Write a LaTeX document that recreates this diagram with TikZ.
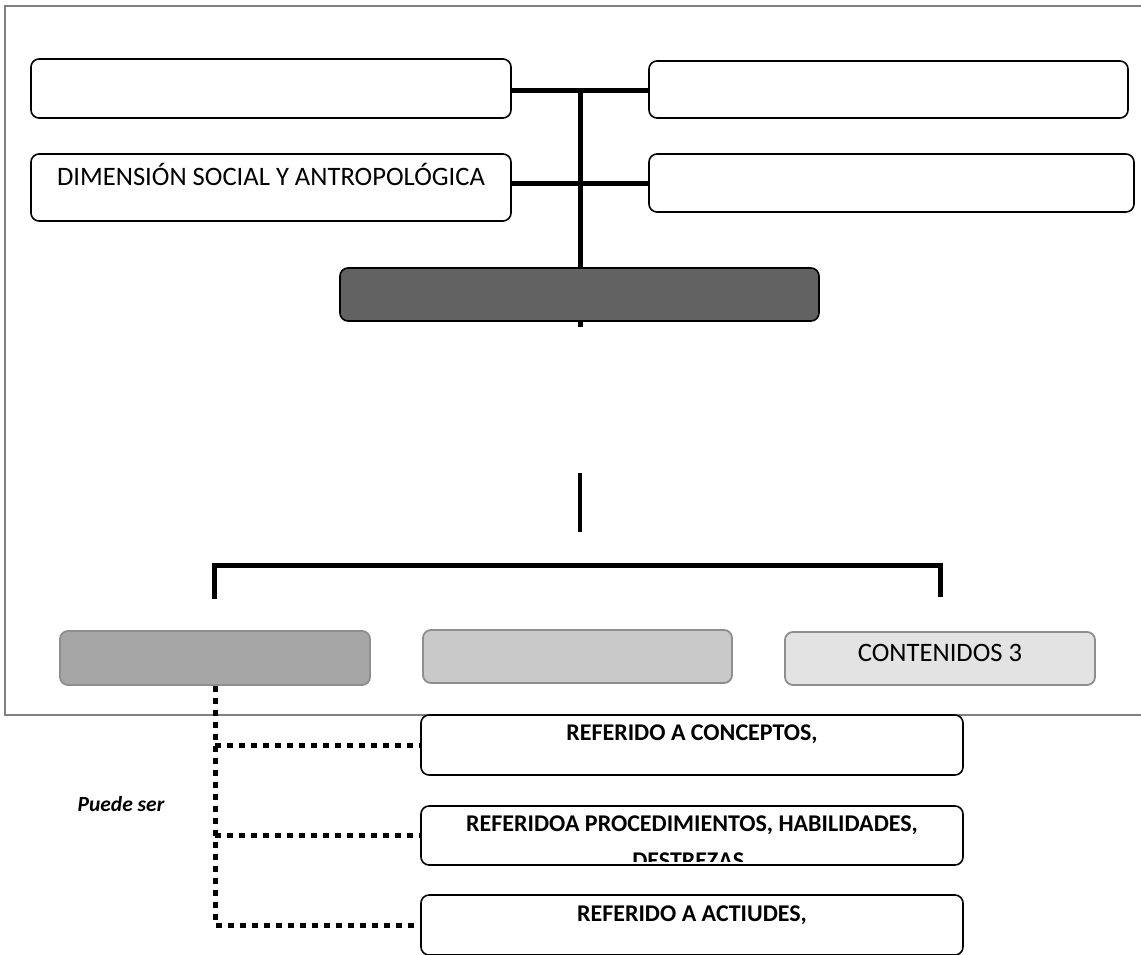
\documentclass[tikz,border=0pt]{standalone}
\usepackage{fontspec}
\setmainfont{Carlito}
\definecolor{framegray}{HTML}{808080}
\definecolor{softedge}{HTML}{8E8E8E}
\definecolor{darkfill}{HTML}{626262}
\definecolor{midfill}{HTML}{A6A6A6}
\definecolor{lightfill}{HTML}{C9C9C9}
\definecolor{palefill}{HTML}{E3E3E3}
\begin{document}
\begin{tikzpicture}[x=1pt,y=-1pt,
  box/.style={draw=black, line width=1.6pt, rounded corners=8pt, fill=white,
    inner sep=0pt},
  softbox/.style={draw=softedge, line width=1.8pt, rounded corners=8pt,
    inner sep=0pt},
  sz/.style n args={2}{minimum width=#1, minimum height=#2},
  txt/.style={inner sep=0pt, font=\fontsize{26.6}{30}\selectfont},
  btxt/.style={inner sep=0pt, font=\fontsize{24}{28}\selectfont\bfseries},
  heavy/.style={line width=5pt},
  midline/.style={line width=4pt},
  dotline/.style={line width=5pt, dash pattern=on 6pt off 6pt}
]
\useasboundingbox (0,0) rectangle (1141,954);

% page frame
\draw[framegray, line width=2pt] (1141,6) -- (5,6) -- (5,715) -- (1141,715);

% upper group of boxes
\node[box, sz={480pt}{59pt}] (tl) at (271,88.5) {};
\node[box, sz={480pt}{67pt}] (ml) at (271,187.5) {};
\node[box, sz={479pt}{57pt}] (tr) at (888.5,89.5) {};
\node[box, sz={485pt}{58pt}] (mr) at (891.5,183) {};
\node[txt] (mltext) at ([yshift=-21pt]ml.north) {DIMENSIÓN SOCIAL Y ANTROPOLÓGICA};

% central connectors
\coordinate (jtop) at (580,90);
\coordinate (jend) at (580,327);
\draw[heavy] (tl.east |- jtop) -- (tr.west |- jtop);
\draw[heavy] (mr.west -| tl.east) -- (mr.west);
\draw[heavy] (jtop) -- (jend);

\node[box, fill=darkfill, sz={479pt}{53pt}] (core) at (579.5,294.5) {};

% short stem and bracket
\coordinate (stemtop) at (580,473);
\coordinate (stembot) at (580,532);
\draw[midline] (stemtop) -- (stembot);

% lower row of boxes
\node[softbox, fill=midfill, sz={310pt}{54pt}] (c1) at (215,658) {};
\node[softbox, fill=lightfill, sz={309pt}{53pt}] (c2) at (577.5,656.5) {};
\node[softbox, fill=palefill, sz={310pt}{53pt}] (c3) at (940,658.5) {};
\node[txt] (c3text) at (940,653) {CONTENIDOS 3};

\coordinate (brl) at (214.5,599);
\coordinate (brr) at (940,597);
\draw[heavy, line join=miter] (brl) -- (214.5,565) -- (940,565) -- (brr);

% content types
\node[box, sz={542pt}{60pt}] (r1) at (692,745) {};
\node[box, sz={542pt}{59pt}] (r2) at (692,835.5) {};
\node[box, sz={542pt}{60pt}] (r3) at (692,925) {};

\draw[dotline] (c1.south) -- (c1.south |- r3.west) -- (r3.west);
\draw[dotline] (c1.south |- r1.west) -- (r1.west);
\draw[dotline] (c1.south |- r2.west) -- (r2.west);

\node[btxt] (r1text) at (692,734) {REFERIDO A CONCEPTOS,};
\node[btxt] (r2text) at (692,825) {REFERIDOA PROCEDIMIENTOS, HABILIDADES,};
\begin{scope}
  \clip (421,806) rectangle (963,861.5);
  \node[btxt, anchor=base] (r2more) at (692,868) {DESTREZAS\textcolor{gray!50}{\fontsize{10}{10}\selectfont\mdseries...}};
\end{scope}
\node[btxt] (r3text) at (692,915) {REFERIDO A ACTIUDES,};

\node[inner sep=0pt, font=\fontsize{21.5}{24}\selectfont\bfseries\itshape] (puede) at (121,804) {Puede ser};
\end{tikzpicture}
\end{document}
